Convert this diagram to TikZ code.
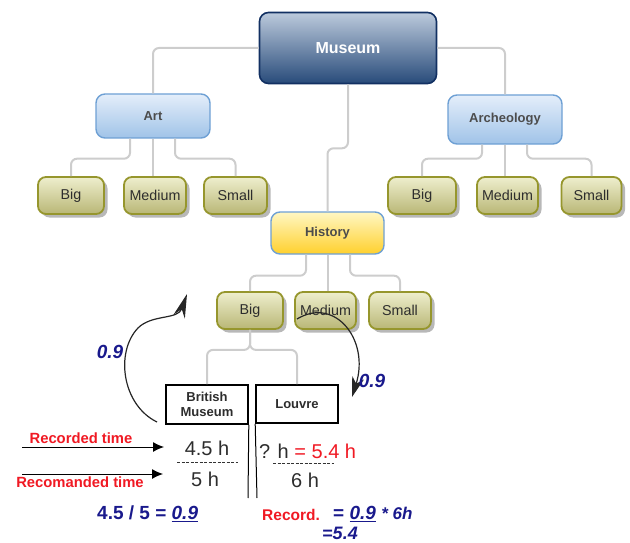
\documentclass[tikz,border=0pt]{standalone}
\usepackage{fontspec}
\setmainfont{Liberation Sans}
\usetikzlibrary{arrows.meta,shadows,calc}
\definecolor{olbord}{RGB}{150,150,45}
\definecolor{oltop}{RGB}{238,238,205}
\definecolor{olbot}{RGB}{185,183,118}
\definecolor{arttop}{RGB}{228,238,250}
\definecolor{artbot}{RGB}{160,195,232}
\definecolor{artbord}{RGB}{110,160,212}
\definecolor{histop}{RGB}{255,247,195}
\definecolor{hisbot}{RGB}{255,208,45}
\definecolor{mustop}{RGB}{188,202,220}
\definecolor{musbot}{RGB}{40,75,122}
\definecolor{musbord}{RGB}{18,48,98}
\definecolor{conn}{RGB}{205,205,205}
\definecolor{txtgray}{RGB}{45,45,45}
\definecolor{myblue}{RGB}{25,25,140}
\definecolor{myred}{RGB}{240,25,35}
\tikzset{
  musbox/.style={rounded corners=9pt, draw=musbord, line width=1.6pt, top color=mustop, bottom color=musbot,
     text=white, font=\fontsize{16}{18}\selectfont\bfseries, inner sep=0pt},
  catbox/.style={rounded corners=9pt, draw=artbord, line width=1.4pt, top color=arttop, bottom color=artbot,
     text=txtgray!85, font=\fontsize{13}{15}\selectfont\bfseries, inner sep=0pt},
  hisbox/.style={rounded corners=9pt, draw=artbord, line width=1.4pt, top color=histop, bottom color=hisbot,
     text=txtgray!85, font=\fontsize{13}{15}\selectfont\bfseries, inner sep=0pt},
  leafbox/.style={rounded corners=8pt, draw=olbord, line width=1.8pt, top color=oltop, bottom color=olbot,
     text=txtgray, font=\fontsize{14.3}{16}\selectfont, inner sep=0pt,
     drop shadow={shadow xshift=3.5pt, shadow yshift=-3.5pt, fill=black!35, opacity=0.8}},
  musebox/.style={draw=black, line width=1.6pt, fill=white, text=txtgray,
     font=\fontsize{13}{14.5}\selectfont\bfseries, align=center, inner sep=0pt},
  conline/.style={draw=conn, line width=2pt, rounded corners=6pt},
  curvearrow/.style={draw=black!85, line width=1.2pt},
  bluelab/.style={text=myblue, font=\fontsize{19}{21}\selectfont\bfseries\itshape},
  redlab/.style={text=myred, font=\fontsize{14.8}{17}\selectfont\bfseries},
  numtxt/.style={text=txtgray, font=\fontsize{20}{22}\selectfont},
}
\begin{document}
\begin{tikzpicture}[x=1pt,y=-1pt]
\useasboundingbox (0,0) rectangle (630,543);
% nodes
\node[musbox, minimum width=177pt, minimum height=71pt] (Museum) at (348,48) {Museum};
\node[catbox, minimum width=114pt, minimum height=44pt] (Art) at (153,116) {Art};
\node[catbox, minimum width=114pt, minimum height=49pt] (Arch) at (505,119.5) {Archeology};
\node[hisbox, minimum width=113pt, minimum height=42pt] (Hist) at (327.5,233) {History};

\node[leafbox, minimum width=66pt, minimum height=37pt] (ABig) at (71,195.5) {Big};
\node[leafbox, minimum width=62pt, minimum height=37pt] (AMed) at (155,195.5) {Medium};
\node[leafbox, minimum width=63pt, minimum height=37pt] (ASma) at (235.5,195.5) {Small};

\node[leafbox, minimum width=68pt, minimum height=37pt] (RBig) at (422,195.5) {Big};
\node[leafbox, minimum width=61pt, minimum height=37pt] (RMed) at (507.5,195.5) {Medium};
\node[leafbox, minimum width=60pt, minimum height=37pt] (RSma) at (591.5,195.5) {Small};

\node[leafbox, minimum width=66pt, minimum height=37pt] (HBig) at (250,310.5) {Big};
\node[leafbox, minimum width=61pt, minimum height=37pt] (HMed) at (325.5,310.5) {Medium};
\node[leafbox, minimum width=62pt, minimum height=37pt] (HSma) at (400,310.5) {Small};

\node[musebox, minimum width=82pt, minimum height=39pt] (BM) at (207,404.5) {British\\Museum};
\node[musebox, minimum width=82pt, minimum height=38pt] (Lou) at (297,404) {Louvre};

% connectors
\draw[conline] (Museum.west) -| (Art.north);
\draw[conline] (Museum.east) -| (Arch.north);
\draw[conline] (Museum.south) -- ++(0,64) -| (Hist.north);

\draw[conline] ([xshift=-23pt]Art.south) -- ++(0,20) -| (ABig.north);
\draw[conline] (Art.south) -- (Art.south |- AMed.north);
\draw[conline] ([xshift=22pt]Art.south) -- ++(0,20) -| (ASma.north);

\draw[conline] ([xshift=-23pt]Arch.south) -- ++(0,14) -| (RBig.north);
\draw[conline] (Arch.south) -- (Arch.south |- RMed.north);
\draw[conline] ([xshift=22pt]Arch.south) -- ++(0,14) -| (RSma.north);

\draw[conline] ([xshift=-21.5pt]Hist.south) -- ++(0,21) -| (HBig.north);
\draw[conline] (Hist.south) -- (Hist.south |- HMed.north);
\draw[conline] ([xshift=22.5pt]Hist.south) -- ++(0,21) -| (HSma.north);

\draw[conline] (HBig.south) -- ++(0,20) -| (BM.north);
\draw[conline] (HBig.south) -- ++(0,20) -| (Lou.north);

% vertical table lines
\coordinate (vl1) at (248,498);
\coordinate (vl2) at (257,498);
\draw[black, line width=1pt] (BM.south east) -- (vl1);
\draw[black, line width=1pt] (Lou.south west) -- (vl2);

% curved arrows
\coordinate (aL1) at (157,422);
\coordinate (aL2) at (187,294);
\draw[curvearrow, -{Stealth[length=24pt,width=12pt,inset=8pt]}] (aL1) .. controls (122,405) and (115,352) .. (138,328) .. controls (152,314) and (178,320) .. (aL2);
\coordinate (aR1) at (297,319);
\coordinate (aR2) at (352,397);
\draw[curvearrow, -{Stealth[length=20pt,width=12pt,inset=6pt]}] (aR1) .. controls (335,296) and (370,340) .. (aR2);
\node[bluelab] (lab1) at (110,352) {0.9};
\node[bluelab] (lab2) at (372,381) {0.9};

% time labels and arrows
\node[redlab] (rec) at (81,438) {Recorded time};
\node[redlab] (recom) at (80,482) {Recomanded time};
\coordinate (r1a) at (22,447);
\coordinate (r1b) at (164,447);
\coordinate (r2a) at (22,474);
\coordinate (r2b) at (163,474);
\draw[black, line width=1pt, -{Latex[length=11pt,width=10pt]}] (r1a) -- (r1b);
\draw[black, line width=1pt, -{Latex[length=11pt,width=10pt]}] (r2a) -- (r2b);

% fractions
\node[numtxt] (n45) at (207,448) {4.5 h};
\node[numtxt] (n5) at (205,479) {5 h};
\coordinate (d1a) at (177,462);
\coordinate (d1b) at (238,462);
\draw[black!80, line width=0.8pt, dash pattern=on 3pt off 1.5pt] (d1a) -- (d1b);

\node[numtxt, anchor=west, inner sep=0pt] (nq) at (259,451) {? h \textcolor{myred}{= 5.4 h}};
\node[numtxt] (n6) at (305,480) {6 h};
\coordinate (d2a) at (273,463);
\coordinate (d2b) at (334,463);
\draw[black!80, line width=0.8pt, dash pattern=on 3pt off 1.5pt] (d2a) -- (d2b);

% results
\node[text=myblue, font=\fontsize{19}{21}\selectfont\bfseries, anchor=west, inner sep=0pt] (res1) at (97,514)
  {4.5 / 5 = \underline{\textit{0.9}}};
\node[text=myred, font=\fontsize{15.5}{17}\selectfont\bfseries, anchor=west, inner sep=0pt] (res2a) at (262,515) {Record.};
\node[text=myblue, font=\fontsize{19}{21}\selectfont\bfseries, anchor=west, inner sep=0pt] (res2b) at (333,514)
  {= \underline{\textit{0.9}} {\fontsize{17}{19}\selectfont\textit{* 6h}}};
\node[text=myblue, font=\fontsize{18}{20}\selectfont\bfseries\itshape, inner sep=1pt] (res3) at (340,533) {=5.4};
\end{tikzpicture}
\end{document}
